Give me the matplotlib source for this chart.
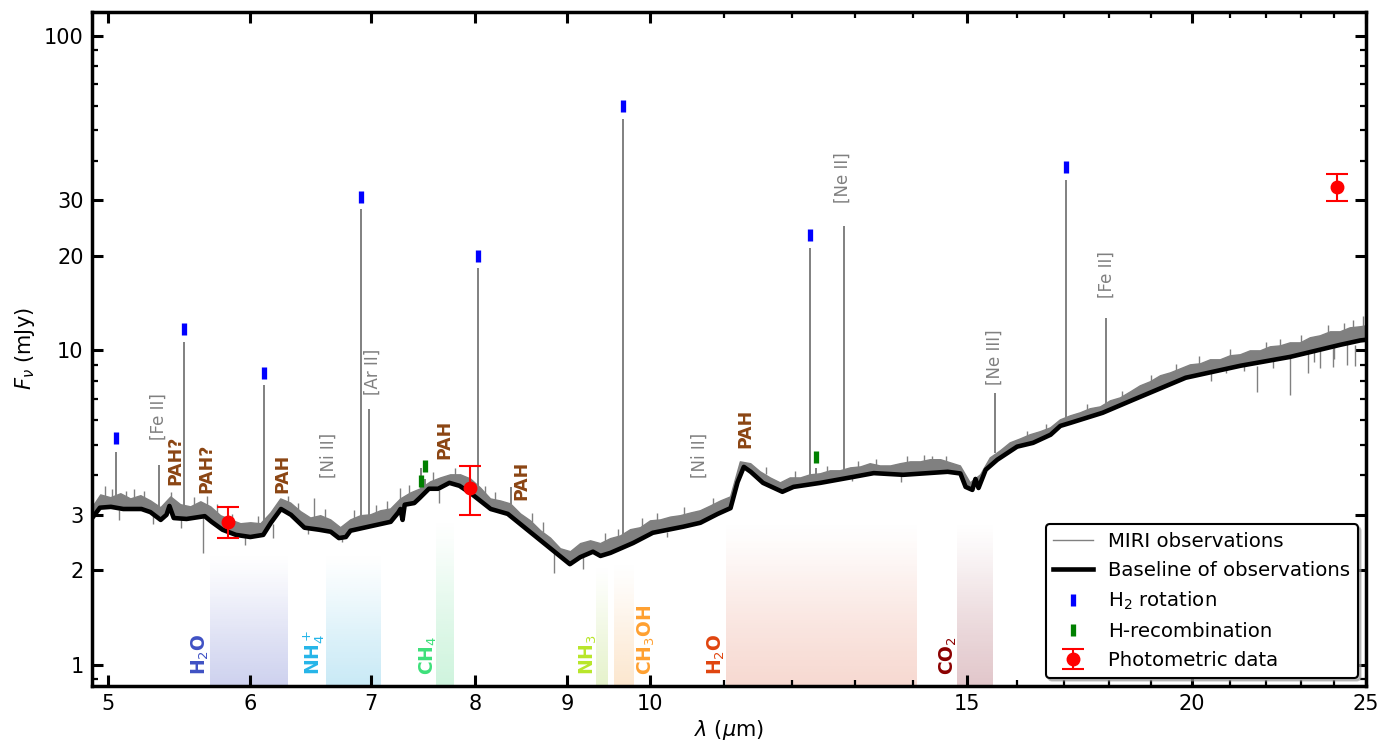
import numpy as np
import matplotlib
matplotlib.use("Agg")
import matplotlib.pyplot as plt
from matplotlib.ticker import NullFormatter
from matplotlib.colors import to_rgb

# ---------------- continuum baseline of the spectrum ----------------
base_wl = [4.91, 4.95, 5.02, 5.10, 5.22, 5.28, 5.35, 5.39, 5.41, 5.44, 5.53, 5.66,
           5.71, 5.79, 5.89, 6.00, 6.10, 6.16, 6.24, 6.32, 6.43, 6.55, 6.65, 6.72,
           6.78, 6.82, 7.02, 7.18, 7.25, 7.27, 7.29, 7.31, 7.40, 7.45, 7.54, 7.63,
           7.74, 7.84, 7.96, 8.16, 8.34, 9.03, 9.15, 9.30, 9.39, 9.51, 9.79, 10.04,
           10.44, 10.67, 10.91, 11.09, 11.19, 11.28, 11.38, 11.56, 11.85, 12.02,
           12.44, 12.98, 13.32, 13.83, 14.64, 14.88, 14.98, 15.11, 15.17, 15.23,
           15.37, 15.60, 16.00, 16.33, 16.70, 16.91, 17.13, 17.85, 18.56, 19.85,
           21.29, 22.69, 23.19, 24.19, 24.82, 25.0]
base_flux = [2.97, 3.16, 3.18, 3.13, 3.13, 3.06, 2.89, 3.00, 3.20, 2.93, 2.91, 2.97,
             2.85, 2.69, 2.59, 2.55, 2.59, 2.83, 3.13, 3.00, 2.73, 2.69, 2.65, 2.53,
             2.55, 2.67, 2.77, 2.85, 3.05, 3.13, 2.89, 3.23, 3.27, 3.39, 3.63, 3.63,
             3.79, 3.71, 3.50, 3.13, 3.02, 2.09, 2.20, 2.29, 2.22, 2.27, 2.44, 2.63,
             2.75, 2.83, 3.02, 3.15, 3.81, 4.26, 4.11, 3.79, 3.55, 3.68,
             3.79, 3.96, 4.07, 4.02, 4.11, 4.06, 3.68, 3.60, 3.90, 3.65,
             4.17, 4.49, 4.94, 5.08, 5.39, 5.75, 5.88, 6.33, 6.96, 8.18,
             8.93, 9.53, 9.82, 10.41, 10.75, 10.80]

# ---------------- MIRI spectrum: upper edge of the noisy continuum ----------------
obs_wl = [4.905, 4.955, 5.019, 5.084, 5.149, 5.216, 5.283, 5.351, 5.420, 5.489,
          5.560, 5.632, 5.704, 5.777, 5.852, 5.927, 6.003, 6.081, 6.159, 6.238,
          6.318, 6.400, 6.482, 6.565, 6.650, 6.735, 6.822, 6.910, 6.999, 7.089,
          7.180, 7.272, 7.366, 7.461, 7.557, 7.654, 7.752, 7.852, 7.953, 8.055,
          8.159, 8.264, 8.370, 8.478, 8.587, 8.698, 8.809, 8.923, 9.038, 9.154,
          9.272, 9.391, 9.512, 9.634, 9.758, 9.884, 10.01, 10.14, 10.27, 10.40,
          10.54, 10.67, 10.81, 10.95, 11.09, 11.23, 11.38, 11.52, 11.67, 11.82,
          11.97, 12.13, 12.28, 12.44, 12.60, 12.76, 12.93, 13.10, 13.26, 13.43,
          13.61, 13.78, 13.96, 14.14, 14.32, 14.51, 14.69, 14.88, 15.07, 15.27,
          15.46, 15.66, 15.86, 16.07, 16.27, 16.48, 16.70, 16.91, 17.13, 17.35,
          17.57, 17.80, 18.03, 18.26, 18.50, 18.73, 18.97, 19.22, 19.47, 19.72,
          19.97, 20.23, 20.49, 20.75, 21.02, 21.29, 21.56, 21.84, 22.12, 22.41,
          22.69, 22.99, 23.28, 23.58, 23.89, 24.19, 24.50, 24.82, 25.0]
obs_flux = [3.18, 3.47, 3.40, 3.50, 3.37, 3.45, 3.32, 3.16, 3.42, 3.23,
            3.18, 3.30, 3.18, 2.98, 2.89, 2.81, 2.83, 2.81, 3.04, 3.37,
            3.27, 3.07, 2.93, 2.98, 2.89, 2.73, 2.89, 2.98, 3.00, 3.09,
            3.13, 3.37, 3.52, 3.63, 3.82, 3.93, 4.02, 4.02, 3.90, 3.65,
            3.37, 3.32, 3.25, 3.02, 2.87, 2.67, 2.53, 2.34, 2.29, 2.43,
            2.48, 2.43, 2.52, 2.57, 2.69, 2.73, 2.87, 2.89, 2.95, 2.98,
            3.04, 3.09, 3.20, 3.32, 3.42, 4.42, 4.36, 4.11, 3.93, 3.79,
            3.93, 3.93, 4.02, 4.05, 4.14, 4.14, 4.23, 4.26, 4.36, 4.29,
            4.29, 4.36, 4.42, 4.42, 4.49, 4.49, 4.39, 4.29, 3.79, 4.02,
            4.55, 4.79, 5.08, 5.23, 5.39, 5.51, 5.67, 6.01, 6.19, 6.33,
            6.52, 6.61, 6.91, 7.06, 7.38, 7.71, 7.94, 8.30, 8.48, 8.73,
            8.99, 9.06, 9.33, 9.33, 9.61, 9.68, 9.96, 9.96, 10.26, 10.33,
            10.56, 10.56, 10.96, 11.12, 11.45, 11.45, 11.79, 11.88, 11.96]

# ---------------- emission lines ----------------
line_wl = [5.053, 5.340, 5.511, 6.109, 6.909, 6.985, 7.46, 7.50, 8.025, 8.37,
           9.665, 12.279, 12.37, 12.814, 15.555, 17.035, 17.936]
line_base = [3.40, 3.16, 3.20, 2.81, 2.98, 3.00, 3.60, 3.65, 3.70, 3.25,
             2.60, 4.00, 4.05, 4.15, 4.70, 6.10, 6.60]
line_peak = [4.76, 4.32, 10.6, 7.77, 28.2, 6.52, 4.23, 3.90, 18.3, 3.68,
             54.5, 21.2, 4.23, 24.9, 7.33, 34.8, 12.7]

# noise spikes (up and down) in the spectrum
noise_wl = [4.98, 5.03, 5.07, 5.12, 5.17, 5.24, 5.30, 5.42, 5.49, 5.58, 5.65,
            5.68, 5.75, 5.86, 5.96, 6.06, 6.18, 6.30, 6.38, 6.46, 6.51, 6.60,
            6.75, 6.85, 7.05, 7.15, 7.27, 7.35, 7.58, 7.64, 7.80, 8.10, 8.20,
            8.60, 8.72, 8.85, 9.18, 9.45, 9.60, 9.90, 10.10, 10.23, 10.45, 10.85,
            11.60, 12.05, 12.55, 12.96, 13.05, 13.35, 13.80, 13.90, 14.20, 14.35,
            14.60, 16.20, 16.60, 17.50, 18.30, 19.00, 19.60, 20.20, 20.50, 20.90,
            21.00, 21.40, 21.76, 22.00, 22.20, 22.40, 22.69, 23.00, 23.20, 23.40,
            23.58, 23.80, 23.98, 24.00, 24.30, 24.40, 24.60, 24.66, 24.90]
noise_from = [3.30, 3.30, 3.10, 3.30, 3.30, 3.40, 3.10, 3.30, 2.90, 3.20, 2.95,
              3.20, 3.05, 2.85, 2.55, 2.80, 2.80, 3.25, 3.10, 2.75, 2.90, 2.95,
              2.55, 2.90, 3.00, 3.10, 3.20, 3.50, 3.85, 3.60, 4.00, 3.50, 3.35,
              2.85, 2.65, 2.30, 2.20, 2.45, 2.50, 2.75, 2.88, 2.65, 3.00, 3.22,
              4.05, 3.93, 4.10, 4.00, 4.25, 4.30, 4.00, 4.40, 4.42, 4.40,
              4.40, 5.30, 5.60, 6.45, 7.10, 7.95, 8.60, 9.05, 8.90, 9.20,
              9.60, 9.40, 8.90, 9.96, 9.60, 10.30, 9.50, 10.60, 9.80, 10.10,
              10.00, 11.40, 10.20, 10.30, 11.50, 10.50, 11.50, 10.40, 11.80]
noise_to = [3.70, 3.62, 2.89, 3.58, 3.62, 3.56, 2.80, 3.55, 2.73, 3.42, 2.27,
            3.45, 3.25, 3.02, 2.41, 2.98, 2.53, 3.45, 3.28, 2.60, 3.40, 3.12,
            2.46, 3.10, 3.22, 3.32, 3.65, 3.72, 4.10, 3.27, 4.22, 3.70, 3.55,
            3.05, 2.85, 1.96, 2.02, 2.62, 2.70, 2.93, 3.05, 2.55, 3.18, 3.40,
            4.25, 4.12, 4.28, 3.85, 4.45, 4.50, 3.82, 4.60, 4.65, 4.62,
            4.60, 5.55, 5.85, 6.75, 7.45, 8.35, 9.05, 9.60, 8.00, 8.50,
            10.10, 8.60, 7.38, 10.60, 8.80, 10.90, 7.22, 11.20, 8.49, 9.20,
            8.80, 12.00, 8.86, 9.40, 12.20, 9.00, 12.50, 8.90, 12.90]

# ---------------- line identification markers ----------------
h2_wl = [5.053, 5.511, 6.109, 6.909, 8.025, 9.665, 12.279, 17.035]
h2_mark = [5.27, 11.7, 8.48, 30.8, 20.0, 59.9, 23.3, 38.3]
hrec_wl = [7.46, 7.50, 12.37]
hrec_mark = [3.85, 4.29, 4.59]

# ---------------- photometry ----------------
phot_wl = [5.83, 7.95, 24.1]
phot_flux = [2.85, 3.65, 33.1]
phot_err = [0.32, 0.65, 3.3]

# ---------------- ice absorption bands ----------------
ice_names = ['H$_2$O', 'NH$_4^+$', 'CH$_4$', 'NH$_3$', 'CH$_3$OH', 'H$_2$O', 'CO$_2$']
ice_lo = [5.70, 6.61, 7.61, 9.34, 9.55, 11.02, 14.82]
ice_hi = [6.30, 7.10, 7.79, 9.49, 9.80, 14.07, 15.52]
ice_top = [2.3, 2.3, 2.95, 2.1, 2.15, 2.9, 2.9]
ice_label_wl = [5.63, 6.51, 7.53, 9.25, 9.96, 10.89, 14.65]
ice_fill = ['#3c4bbe', '#28aadc', '#40d47a', '#9acd32', '#f5a040', '#e06848', '#8b2030']
ice_text = ['#3f51c4', '#25b5e8', '#3de07a', '#b8e62a', '#ffa030', '#e0440e', '#8b0000']

# ---------------- feature labels ----------------
pah_labels = ['PAH?', 'PAH?', 'PAH', 'PAH', 'PAH', 'PAH']
pah_wl = [5.45, 5.67, 6.25, 7.69, 8.49, 11.30]
pah_y = [3.73, 3.52, 3.52, 4.52, 3.35, 4.90]

ion_labels = ['[Fe II]', '[Ni II]', '[Ar II]', '[Ni II]', '[Ne II]', '[Ne III]', '[Fe II]']
ion_wl = [5.34, 6.63, 7.02, 10.66, 12.80, 15.54, 17.94]
ion_y = [5.19, 3.93, 7.22, 3.93, 29.4, 7.77, 14.7]

# ---------------- axes ticks ----------------
xtick_vals = [5, 6, 7, 8, 9, 10, 15, 20, 25]
xtick_labels = ['5', '6', '7', '8', '9', '10', '15', '20', '25']
xminor_vals = [11, 12, 13, 14, 16, 17, 18, 19, 21, 22, 23, 24]
ytick_vals = [1, 2, 3, 10, 20, 30, 100]
ytick_labels = ['1', '2', '3', '10', '20', '30', '100']
yminor_vals = [0.9, 4, 5, 6, 7, 8, 9, 40, 50, 60, 70, 80, 90]

XMIN, XMAX = 4.9, 25.0
YMIN, YMAX = 0.857, 119.0

fig = plt.figure(figsize=(13.94, 7.42), dpi=100)
ax = fig.add_axes([0.066, 0.0755, 0.9139, 0.9084])
ax.set_xscale('log')
ax.set_yscale('log')

# ice bands drawn as vertical colour gradients fading upwards
fade = np.linspace(1.0, 0.0, 128) ** 1.5
for lo, hi, top, col in zip(ice_lo, ice_hi, ice_top, ice_fill):
    grad = np.zeros((128, 1, 4))
    grad[..., :3] = to_rgb(col)
    grad[:, 0, 3] = 0.25 * fade
    ax.imshow(grad, extent=[lo, hi, YMIN, top], origin='lower',
              aspect='auto', interpolation='bilinear', zorder=0)

for name, x, col in zip(ice_names, ice_label_wl, ice_text):
    ax.text(x, 0.93, name, rotation=90, ha='center', va='bottom',
            fontsize=13.5, fontweight='bold', color=col, zorder=6)

# observed spectrum
poly_x = np.r_[obs_wl, base_wl[::-1]]
poly_y = np.r_[obs_flux, base_flux[::-1]]
ax.fill(poly_x, poly_y, color='gray', lw=0, zorder=2)
obs_line, = ax.plot(obs_wl, obs_flux, color='gray', lw=1.0, zorder=2)
ax.vlines(line_wl, line_base, line_peak, color='gray', lw=1.4, zorder=2)
ax.vlines(noise_wl, noise_from, noise_to, color='gray', lw=1.0, zorder=2)

# baseline
base_line, = ax.plot(base_wl, base_flux, color='black', lw=3.3, zorder=3,
                     solid_joinstyle='round')

# line markers
h2_h, = ax.plot(h2_wl, h2_mark, ls='none', marker='|', ms=8.5, mew=3.8,
                color='blue', zorder=4)
hrec_h, = ax.plot(hrec_wl, hrec_mark, ls='none', marker='|', ms=8.5, mew=3.8,
                  color='green', zorder=4)

# photometry
phot_h = ax.errorbar(phot_wl, phot_flux, yerr=phot_err, fmt='o', color='red',
                     ms=9, capsize=8, elinewidth=1.5, capthick=1.5, zorder=5)

for lab, x, y in zip(pah_labels, pah_wl, pah_y):
    ax.text(x, y, lab, rotation=90, ha='center', va='bottom', fontsize=12.5,
            fontweight='bold', color='#8b4513', zorder=6)

for lab, x, y in zip(ion_labels, ion_wl, ion_y):
    ax.text(x, y, lab, rotation=90, ha='center', va='bottom', fontsize=12,
            color='gray', zorder=6)

ax.set_xlim(XMIN, XMAX)
ax.set_ylim(YMIN, YMAX)

ax.set_xticks(xtick_vals, labels=xtick_labels)
ax.set_xticks(xminor_vals, minor=True)
ax.xaxis.set_minor_formatter(NullFormatter())
ax.set_yticks(ytick_vals, labels=ytick_labels)
ax.set_yticks(yminor_vals, minor=True)
ax.yaxis.set_minor_formatter(NullFormatter())

ax.tick_params(which='both', direction='in', top=True, right=True)
ax.tick_params(which='major', length=8, width=2.2, labelsize=15, pad=6)
ax.tick_params(which='minor', length=4.5, width=1.6)
for sp in ax.spines.values():
    sp.set_linewidth(2.5)

ax.set_xlabel(r'$\lambda$ ($\mu$m)', fontsize=15, labelpad=3)
ax.set_ylabel(r'$F_\nu$ (mJy)', fontsize=15, labelpad=5)

leg = ax.legend([obs_line, base_line, h2_h, hrec_h, phot_h],
                ['MIRI observations', 'Baseline of observations', 'H$_2$ rotation',
                 'H-recombination', 'Photometric data'],
                loc='lower right', fontsize=14.2, frameon=True, fancybox=True,
                shadow={'color': '0.6', 'alpha': 0.6}, framealpha=1,
                edgecolor='black', handlelength=2.0, numpoints=1,
                labelspacing=0.5, borderpad=0.4, handletextpad=0.75,
                borderaxespad=0.42)
leg.get_frame().set_linewidth(1.5)
leg.set_zorder(10)

fig.savefig('out.png', dpi=100)
